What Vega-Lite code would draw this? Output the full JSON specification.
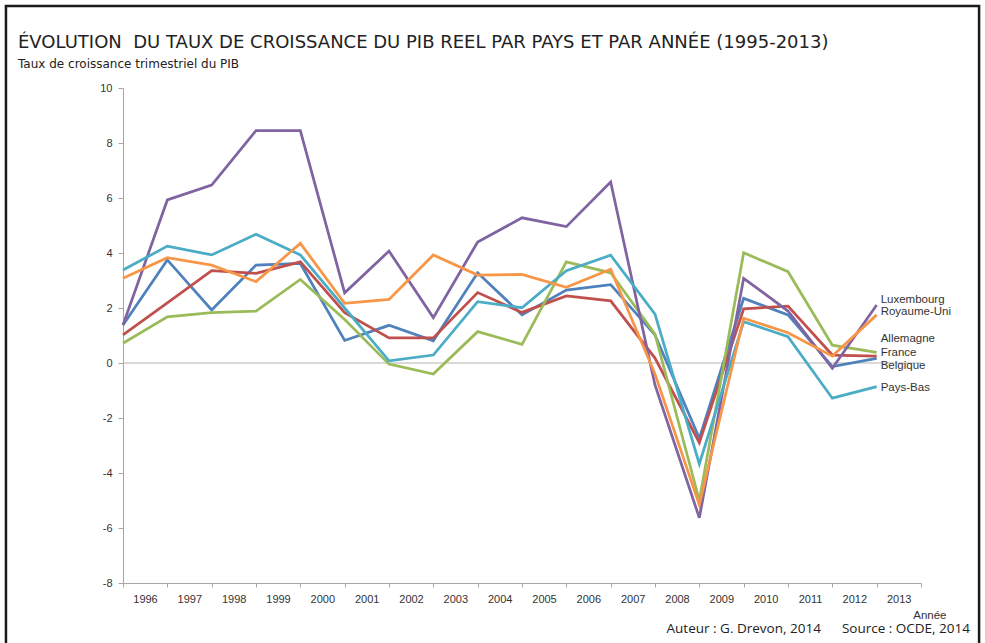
{
  "$schema": "https://vega.github.io/schema/vega-lite/v6.json",
  "width": 798,
  "height": 495,
  "autosize": {"type": "none"},
  "padding": {"left": 123, "top": 88, "right": 64, "bottom": 60},
  "background": "white",
  "config": {"view": {"stroke": null}},
  "data": {"values": [
    {"annee":1996,"pays":"Belgique","taux":1.38},{"annee":1997,"pays":"Belgique","taux":3.75},{"annee":1998,"pays":"Belgique","taux":1.93},{"annee":1999,"pays":"Belgique","taux":3.56},{"annee":2000,"pays":"Belgique","taux":3.62},{"annee":2001,"pays":"Belgique","taux":0.82},{"annee":2002,"pays":"Belgique","taux":1.37},{"annee":2003,"pays":"Belgique","taux":0.81},{"annee":2004,"pays":"Belgique","taux":3.28},{"annee":2005,"pays":"Belgique","taux":1.75},{"annee":2006,"pays":"Belgique","taux":2.65},{"annee":2007,"pays":"Belgique","taux":2.85},{"annee":2008,"pays":"Belgique","taux":1.02},{"annee":2009,"pays":"Belgique","taux":-2.74},{"annee":2010,"pays":"Belgique","taux":2.35},{"annee":2011,"pays":"Belgique","taux":1.75},{"annee":2012,"pays":"Belgique","taux":-0.13},{"annee":2013,"pays":"Belgique","taux":0.17},
    {"annee":1996,"pays":"France","taux":1.02},{"annee":1997,"pays":"France","taux":2.19},{"annee":1998,"pays":"France","taux":3.36},{"annee":1999,"pays":"France","taux":3.26},{"annee":2000,"pays":"France","taux":3.68},{"annee":2001,"pays":"France","taux":1.83},{"annee":2002,"pays":"France","taux":0.91},{"annee":2003,"pays":"France","taux":0.91},{"annee":2004,"pays":"France","taux":2.56},{"annee":2005,"pays":"France","taux":1.84},{"annee":2006,"pays":"France","taux":2.44},{"annee":2007,"pays":"France","taux":2.26},{"annee":2008,"pays":"France","taux":0.18},{"annee":2009,"pays":"France","taux":-2.9},{"annee":2010,"pays":"France","taux":1.97},{"annee":2011,"pays":"France","taux":2.07},{"annee":2012,"pays":"France","taux":0.29},{"annee":2013,"pays":"France","taux":0.25},
    {"annee":1996,"pays":"Allemagne","taux":0.72},{"annee":1997,"pays":"Allemagne","taux":1.68},{"annee":1998,"pays":"Allemagne","taux":1.83},{"annee":1999,"pays":"Allemagne","taux":1.89},{"annee":2000,"pays":"Allemagne","taux":3.04},{"annee":2001,"pays":"Allemagne","taux":1.58},{"annee":2002,"pays":"Allemagne","taux":-0.04},{"annee":2003,"pays":"Allemagne","taux":-0.4},{"annee":2004,"pays":"Allemagne","taux":1.14},{"annee":2005,"pays":"Allemagne","taux":0.68},{"annee":2006,"pays":"Allemagne","taux":3.68},{"annee":2007,"pays":"Allemagne","taux":3.28},{"annee":2008,"pays":"Allemagne","taux":1.05},{"annee":2009,"pays":"Allemagne","taux":-5.0},{"annee":2010,"pays":"Allemagne","taux":4.01},{"annee":2011,"pays":"Allemagne","taux":3.32},{"annee":2012,"pays":"Allemagne","taux":0.65},{"annee":2013,"pays":"Allemagne","taux":0.39},
    {"annee":1996,"pays":"Luxembourg","taux":1.38},{"annee":1997,"pays":"Luxembourg","taux":5.93},{"annee":1998,"pays":"Luxembourg","taux":6.47},{"annee":1999,"pays":"Luxembourg","taux":8.45},{"annee":2000,"pays":"Luxembourg","taux":8.45},{"annee":2001,"pays":"Luxembourg","taux":2.55},{"annee":2002,"pays":"Luxembourg","taux":4.07},{"annee":2003,"pays":"Luxembourg","taux":1.65},{"annee":2004,"pays":"Luxembourg","taux":4.4},{"annee":2005,"pays":"Luxembourg","taux":5.28},{"annee":2006,"pays":"Luxembourg","taux":4.96},{"annee":2007,"pays":"Luxembourg","taux":6.58},{"annee":2008,"pays":"Luxembourg","taux":-0.8},{"annee":2009,"pays":"Luxembourg","taux":-5.63},{"annee":2010,"pays":"Luxembourg","taux":3.08},{"annee":2011,"pays":"Luxembourg","taux":1.89},{"annee":2012,"pays":"Luxembourg","taux":-0.19},{"annee":2013,"pays":"Luxembourg","taux":2.11},
    {"annee":1996,"pays":"Pays-Bas","taux":3.38},{"annee":1997,"pays":"Pays-Bas","taux":4.25},{"annee":1998,"pays":"Pays-Bas","taux":3.93},{"annee":1999,"pays":"Pays-Bas","taux":4.68},{"annee":2000,"pays":"Pays-Bas","taux":3.93},{"annee":2001,"pays":"Pays-Bas","taux":2.0},{"annee":2002,"pays":"Pays-Bas","taux":0.08},{"annee":2003,"pays":"Pays-Bas","taux":0.29},{"annee":2004,"pays":"Pays-Bas","taux":2.23},{"annee":2005,"pays":"Pays-Bas","taux":2.01},{"annee":2006,"pays":"Pays-Bas","taux":3.36},{"annee":2007,"pays":"Pays-Bas","taux":3.92},{"annee":2008,"pays":"Pays-Bas","taux":1.78},{"annee":2009,"pays":"Pays-Bas","taux":-3.67},{"annee":2010,"pays":"Pays-Bas","taux":1.5},{"annee":2011,"pays":"Pays-Bas","taux":0.96},{"annee":2012,"pays":"Pays-Bas","taux":-1.28},{"annee":2013,"pays":"Pays-Bas","taux":-0.86},
    {"annee":1996,"pays":"Royaume-Uni","taux":3.08},{"annee":1997,"pays":"Royaume-Uni","taux":3.83},{"annee":1998,"pays":"Royaume-Uni","taux":3.56},{"annee":1999,"pays":"Royaume-Uni","taux":2.96},{"annee":2000,"pays":"Royaume-Uni","taux":4.35},{"annee":2001,"pays":"Royaume-Uni","taux":2.17},{"annee":2002,"pays":"Royaume-Uni","taux":2.31},{"annee":2003,"pays":"Royaume-Uni","taux":3.93},{"annee":2004,"pays":"Royaume-Uni","taux":3.2},{"annee":2005,"pays":"Royaume-Uni","taux":3.22},{"annee":2006,"pays":"Royaume-Uni","taux":2.75},{"annee":2007,"pays":"Royaume-Uni","taux":3.41},{"annee":2008,"pays":"Royaume-Uni","taux":-0.4},{"annee":2009,"pays":"Royaume-Uni","taux":-5.16},{"annee":2010,"pays":"Royaume-Uni","taux":1.63},{"annee":2011,"pays":"Royaume-Uni","taux":1.1},{"annee":2012,"pays":"Royaume-Uni","taux":0.25},{"annee":2013,"pays":"Royaume-Uni","taux":1.75}
  ]},
  "layer": [
    {
      "data": {"values": [{}]},
      "mark": {"type": "rect", "fill": null, "stroke": "#1a1a1a", "strokeWidth": 2.5, "clip": false},
      "encoding": {
        "x": {"datum": 1993.36, "type": "quantitative", "scale": {"domain": [1996, 2014], "nice": false, "zero": false}},
        "x2": {"datum": 2015.31},
        "y": {"datum": 12.98, "type": "quantitative", "scale": {"domain": [-8, 10], "nice": false, "zero": false}},
        "y2": {"datum": -10.45}
      }
    },
    {
      "data": {"values": [{}]},
      "mark": {"type": "rule", "color": "#b3b3b3", "strokeWidth": 1.2},
      "encoding": {"y": {"datum": 0, "type": "quantitative"}}
    },
    {
      "mark": {"type": "line", "strokeWidth": 2.75, "strokeJoin": "miter", "strokeCap": "butt"},
      "encoding": {
        "x": {
          "field": "annee", "type": "quantitative",
          "axis": {
            "values": [1996,1997,1998,1999,2000,2001,2002,2003,2004,2005,2006,2007,2008,2009,2010,2011,2012,2013,2014],
            "labelExpr": "datum.value > 2013 ? '' : '' + datum.value",
            "labelOffset": 22,
            "labelFlush": false,
            "labelOverlap": false,
            "tickSize": 4,
            "tickColor": "#a6a6a6",
            "domainColor": "#a6a6a6",
            "labelFont": "Liberation Sans",
            "labelFontSize": 11,
            "labelColor": "#333333",
            "labelPadding": 6,
            "grid": false,
            "title": "Année",
            "titleX": 823,
            "titleY": 32,
            "titleAlign": "right",
            "titleBaseline": "middle",
            "titleFont": "Liberation Sans",
            "titleFontSize": 11.5,
            "titleFontWeight": "normal",
            "titleColor": "#333333"
          }
        },
        "y": {
          "field": "taux", "type": "quantitative",
          "axis": {
            "values": [-8,-6,-4,-2,0,2,4,6,8,10],
            "labelExpr": "'' + datum.value",
            "tickSize": 5,
            "tickColor": "#a6a6a6",
            "domainColor": "#a6a6a6",
            "labelFont": "Liberation Sans",
            "labelFontSize": 11,
            "labelColor": "#333333",
            "labelPadding": 6,
            "labelFlush": false,
            "grid": false,
            "title": null
          }
        },
        "color": {
          "field": "pays", "type": "nominal",
          "scale": {"domain": ["Belgique","France","Allemagne","Luxembourg","Pays-Bas","Royaume-Uni"], "range": ["#4F81BD","#C0504D","#9BBB59","#8064A2","#4BACC6","#F79646"]},
          "legend": null
        }
      }
    },
    {
      "transform": [{"filter": "datum.annee == 2013 && datum.pays == 'Luxembourg'"}],
      "mark": {"type": "text", "align": "left", "baseline": "middle", "dx": 4, "dy": -5, "font": "Liberation Sans", "fontSize": 11.5, "color": "#333333"},
      "encoding": {"x": {"field": "annee", "type": "quantitative"}, "y": {"field": "taux", "type": "quantitative"}, "text": {"field": "pays"}}
    },
    {
      "transform": [{"filter": "datum.annee == 2013 && datum.pays == 'Royaume-Uni'"}],
      "mark": {"type": "text", "align": "left", "baseline": "middle", "dx": 4, "dy": -2.5, "font": "Liberation Sans", "fontSize": 11.5, "color": "#333333"},
      "encoding": {"x": {"field": "annee", "type": "quantitative"}, "y": {"field": "taux", "type": "quantitative"}, "text": {"field": "pays"}}
    },
    {
      "transform": [{"filter": "datum.annee == 2013 && datum.pays == 'Allemagne'"}],
      "mark": {"type": "text", "align": "left", "baseline": "middle", "dx": 4, "dy": -13, "font": "Liberation Sans", "fontSize": 11.5, "color": "#333333"},
      "encoding": {"x": {"field": "annee", "type": "quantitative"}, "y": {"field": "taux", "type": "quantitative"}, "text": {"field": "pays"}}
    },
    {
      "transform": [{"filter": "datum.annee == 2013 && datum.pays == 'France'"}],
      "mark": {"type": "text", "align": "left", "baseline": "middle", "dx": 4, "dy": -2.7, "font": "Liberation Sans", "fontSize": 11.5, "color": "#333333"},
      "encoding": {"x": {"field": "annee", "type": "quantitative"}, "y": {"field": "taux", "type": "quantitative"}, "text": {"field": "pays"}}
    },
    {
      "transform": [{"filter": "datum.annee == 2013 && datum.pays == 'Belgique'"}],
      "mark": {"type": "text", "align": "left", "baseline": "middle", "dx": 4, "dy": 7.7, "font": "Liberation Sans", "fontSize": 11.5, "color": "#333333"},
      "encoding": {"x": {"field": "annee", "type": "quantitative"}, "y": {"field": "taux", "type": "quantitative"}, "text": {"field": "pays"}}
    },
    {
      "transform": [{"filter": "datum.annee == 2013 && datum.pays == 'Pays-Bas'"}],
      "mark": {"type": "text", "align": "left", "baseline": "middle", "dx": 4, "dy": 1.6, "font": "Liberation Sans", "fontSize": 11.5, "color": "#333333"},
      "encoding": {"x": {"field": "annee", "type": "quantitative"}, "y": {"field": "taux", "type": "quantitative"}, "text": {"field": "pays"}}
    },
    {
      "data": {"values": [{}]},
      "mark": {"type": "text", "align": "left", "baseline": "alphabetic", "dx": -105, "dy": -40, "font": "DejaVu Sans", "fontSize": 18, "color": "#222222"},
      "encoding": {
        "x": {"datum": 1996, "type": "quantitative"},
        "y": {"datum": 10, "type": "quantitative"},
        "text": {"value": "ÉVOLUTION\u00a0 DU TAUX DE CROISSANCE DU PIB REEL PAR PAYS ET PAR ANNÉE (1995-2013)"}
      }
    },
    {
      "data": {"values": [{}]},
      "mark": {"type": "text", "align": "left", "baseline": "alphabetic", "dx": -105, "dy": -20, "font": "DejaVu Sans", "fontSize": 12, "color": "#222222"},
      "encoding": {
        "x": {"datum": 1996, "type": "quantitative"},
        "y": {"datum": 10, "type": "quantitative"},
        "text": {"value": "Taux de croissance trimestriel du PIB"}
      }
    },
    {
      "data": {"values": [{}]},
      "mark": {"type": "text", "align": "right", "baseline": "middle", "dx": 49, "dy": 46, "font": "Open Sans", "fontSize": 13.5, "color": "#222222"},
      "encoding": {
        "x": {"datum": 2014, "type": "quantitative"},
        "y": {"datum": -8, "type": "quantitative"},
        "text": {"value": "Auteur : G. Drevon, 2014\u00a0\u00a0\u00a0\u00a0\u00a0 Source : OCDE, 2014"}
      }
    }
  ]
}
